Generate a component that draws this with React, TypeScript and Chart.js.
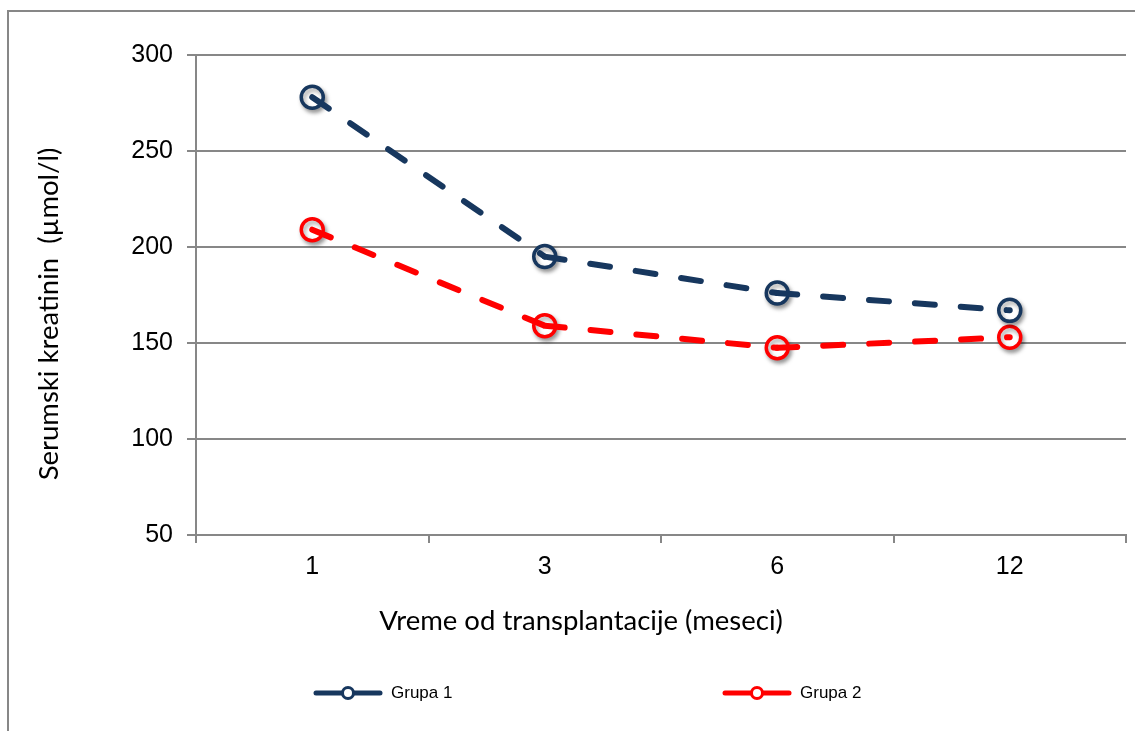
import React, { useEffect, useRef } from "react";
import { Chart, registerables } from "chart.js";

Chart.register(...registerables);

const categories = ["1", "3", "6", "12"];
const grupa1 = [278, 195, 176, 167];
const grupa2 = [209, 159, 147.5, 153];
const seriesNames = ["Grupa 1", "Grupa 2"];
const yMin = 50;
const yMax = 300;
const yStep = 50;
const xTitle = "Vreme od transplantacije (meseci)";
const yTitle = "Serumski kreatinin  (\u00b5mol/l)";

const NAVY = "#17375E";
const RED = "#FF0000";
const GRID = "#878787";
const NARROW = "'Liberation Sans Narrow', 'Liberation Sans', sans-serif";
const TITLE_FONT = "Lato, 'Open Sans', sans-serif";

const frameLegendTitles = {
  id: "frameLegendTitles",
  beforeDraw(chart: any) {
    const ctx = chart.ctx;
    ctx.save();
    ctx.fillStyle = "#fff";
    ctx.fillRect(0, 0, chart.width, chart.height);
    ctx.strokeStyle = GRID;
    ctx.lineWidth = 2;
    ctx.beginPath();
    ctx.moveTo(8, chart.height + 2);
    ctx.lineTo(8, 11);
    ctx.lineTo(chart.width + 2, 11);
    ctx.stroke();
    ctx.restore();
  },
  afterDraw(chart: any) {
    const ctx = chart.ctx;
    const colors = [NAVY, RED];
    const starts = [314, 723];
    const y = 693;
    ctx.save();
    // axis titles
    ctx.fillStyle = "#000";
    ctx.font = `27.5px ${TITLE_FONT}`;
    ctx.textAlign = "center";
    ctx.textBaseline = "middle";
    ctx.fillText(xTitle, 581, 621);
    ctx.save();
    ctx.translate(49, 314);
    ctx.rotate(-Math.PI / 2);
    ctx.fillText(yTitle, 0, 0);
    ctx.restore();
    // legend
    seriesNames.forEach((name, i) => {
      const x0 = starts[i];
      const x1 = x0 + 68;
      const cx = (x0 + x1) / 2;
      ctx.strokeStyle = colors[i];
      ctx.lineCap = "round";
      ctx.lineWidth = 5;
      ctx.beginPath();
      ctx.moveTo(x0 + 2, y);
      ctx.lineTo(x1 - 2, y);
      ctx.stroke();
      ctx.fillStyle = "#fff";
      ctx.lineWidth = 3;
      ctx.beginPath();
      ctx.arc(cx, y, 5.5, 0, Math.PI * 2);
      ctx.fill();
      ctx.stroke();
      ctx.fillStyle = "#000";
      ctx.font = `17px ${NARROW}`;
      ctx.textBaseline = "middle";
      ctx.textAlign = "left";
      ctx.fillText(name, x1 + 9, y);
    });
    ctx.restore();
  },
  beforeDatasetDraw(chart: any, args: any) {
    const ds = chart.data.datasets[args.index];
    if (ds.isMarker) {
      const ctx = chart.ctx;
      ctx.save();
      ctx.shadowColor = "rgba(0,0,0,0.35)";
      ctx.shadowBlur = 4;
      ctx.shadowOffsetX = 2;
      ctx.shadowOffsetY = 3;
    }
  },
  afterDatasetDraw(chart: any, args: any) {
    const ds = chart.data.datasets[args.index];
    if (ds.isMarker) chart.ctx.restore();
  },
};

function lineDataset(label: string, data: number[], color: string) {
  return {
    label,
    data,
    borderColor: color,
    borderWidth: 6,
    borderDash: [20, 26],
    borderCapStyle: "round",
    pointRadius: 0,
    pointHoverRadius: 0,
    fill: false,
    tension: 0,
    order: 1,
    segment: {
      borderDashOffset: (c: any) => (c.p0DataIndex % 2 ? 0.001 : 0),
    },
  };
}

function markerDataset(label: string, data: number[], color: string) {
  return {
    label,
    data,
    isMarker: true,
    showLine: false,
    borderColor: color,
    backgroundColor: "#fff",
    pointRadius: 11,
    pointBorderWidth: 3.5,
    pointBackgroundColor: "#fff",
    pointBorderColor: color,
    pointHoverRadius: 11,
    order: 2,
  };
}

export default function App() {
  const ref = useRef<HTMLCanvasElement | null>(null);
  useEffect(() => {
    document.body.style.margin = "0";
    const chart = new Chart(ref.current as HTMLCanvasElement, {
      type: "line",
      data: {
        labels: categories,
        datasets: [
          markerDataset(seriesNames[0], grupa1, NAVY),
          markerDataset(seriesNames[1], grupa2, RED),
          lineDataset(seriesNames[0], grupa1, NAVY),
          lineDataset(seriesNames[1], grupa2, RED),
        ] as any,
      },
      options: {
        responsive: false,
        animation: false,
        events: [],
        layout: {
          autoPadding: false,
          padding: { left: 30, top: 55, right: 9, bottom: 76 },
        },
        plugins: {
          legend: { display: false },
          tooltip: { enabled: false },
        },
        scales: {
          x: {
            offset: true,
            grid: {
              offset: true,
              drawOnChartArea: false,
              drawTicks: true,
              tickLength: 8,
              color: GRID,
              lineWidth: 2,
            },
            border: { color: GRID, width: 2 },
            ticks: {
              color: "#000",
              font: { family: NARROW, size: 25 },
              padding: 9,
            },
            afterFit: (s: any) => {
              s.height = 120;
              s.paddingLeft = 0;
              s.paddingRight = 0;
            },
          },
          y: {
            min: yMin,
            max: yMax,
            ticks: {
              stepSize: yStep,
              color: "#000",
              font: { family: NARROW, size: 25 },
              padding: 14,
            },
            grid: {
              color: GRID,
              lineWidth: 2,
              tickLength: 9,
              drawTicks: true,
            },
            border: { color: GRID, width: 2 },
            afterFit: (s: any) => {
              s.width = 166;
            },
          },
        },
      },
      plugins: [frameLegendTitles],
    });
    return () => chart.destroy();
  }, []);
  return (
    <div style={{ position: "fixed", left: 0, top: 0, width: 1135, height: 731 }}>
      <canvas ref={ref} width={1135} height={731} />
    </div>
  );
}
